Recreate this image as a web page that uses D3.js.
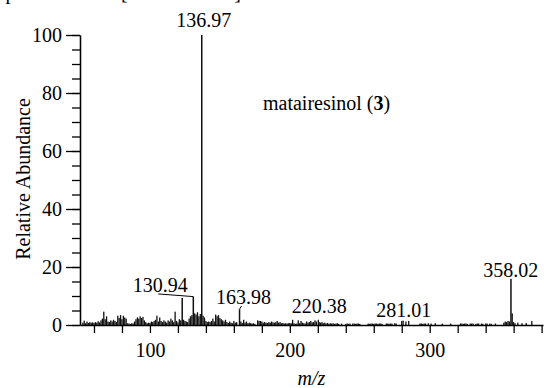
<!DOCTYPE html>
<html>
<head>
<meta charset="utf-8">
<script src="https://cdn.jsdelivr.net/npm/d3@7"></script>
<style>
  html, body { margin: 0; padding: 0; background: #fff; }
  svg { display: block; font-family: "Liberation Serif", "Times New Roman", serif; }
</style>
</head>
<body>
<div id="chart"></div>
<script>
// m/z of each peak and its relative abundance (%)
const massToCharge = [
  52, 53, 54, 55, 56, 57, 58, 59, 60, 61, 62, 63, 64, 65, 66, 67, 68, 69, 70,
  71, 72, 73, 74, 75, 76, 77, 78, 79, 80, 81, 82, 83, 84, 85, 86, 87, 88, 89,
  90, 91, 92, 93, 94, 95, 96, 97, 98, 99, 100, 101, 102, 103, 104, 105, 106,
  107, 108, 109, 110, 111, 112, 113, 114, 115, 116, 117, 118, 119, 120, 121,
  122, 123, 124, 125, 126, 127, 128, 129, 130, 130.94, 132, 133, 134, 135, 136,
  136.97, 138, 139, 140, 141, 142, 143, 144, 145, 146, 147, 148, 149, 150, 151,
  152, 153, 154, 155, 156, 157, 158, 159, 160, 161, 162, 163.98, 165, 166, 167,
  168, 169, 170, 171, 172, 173, 174, 175, 177, 178, 179, 180, 181, 182, 183,
  184, 185, 186, 187, 188, 189, 190, 191, 192, 193, 194, 195, 196, 197, 198,
  199, 200, 201, 202, 203, 204, 205, 206, 207, 208, 209, 210, 211, 212, 213,
  214, 215, 216, 217, 218, 219, 220.38, 221, 222, 223, 224, 225, 226, 227, 228,
  229, 230, 231, 232, 233, 234, 235, 237, 240, 241, 242, 243, 245, 246, 247,
  248, 249, 250, 256, 257, 258, 259, 260, 261, 262, 263, 264, 265, 266, 269,
  270, 271, 272, 273, 275, 276, 280, 281.01, 283, 285, 293, 294, 295, 296, 297,
  299, 301, 304, 309, 315, 322, 323, 324, 325, 326, 327, 329, 330, 331, 333,
  334, 335, 337, 338, 340, 341, 343, 344, 347, 353, 354, 355, 356, 357, 358.02,
  359, 360, 361, 363, 366, 369, 373
];
const abundance = [
  0.8, 1.5, 0.6, 1.2, 0.7, 1.0, 0.8, 0.9, 0.7, 1.0, 0.8, 1.3, 0.9, 1.6, 2.2, 4.6, 2.0, 3.0, 1.2,
  1.0, 1.6, 1.2, 1.8, 1.4, 1.0, 3.2, 2.4, 3.4, 2.0, 3.2, 2.6, 2.2, 0.6, 0.5, 0.4, 0.6, 0.5, 1.2,
  2.0, 2.6, 2.2, 3.0, 2.4, 2.8, 1.6, 1.0, 0.6, 0.8, 0.7, 1.2, 1.0, 1.4, 1.8, 3.2, 1.2,
  2.6, 1.4, 1.0, 1.6, 1.2, 0.8, 1.6, 1.2, 2.2, 1.6, 1.0, 4.6, 1.4, 0.9, 2.0,
  1.6, 9.3, 1.8, 1.4, 1.2, 1.0, 2.2, 3.0, 3.4, 9.8, 4.0, 3.6, 4.4, 3.0, 3.8,
  100, 3.2, 2.6, 1.4, 1.0, 1.2, 1.0, 1.4, 2.2, 1.2, 3.6, 3.0, 3.4, 2.4, 2.0,
  1.6, 1.2, 1.8, 1.0, 0.7, 1.2, 0.8, 0.6, 1.4, 0.8, 1.0, 5.4, 1.2, 0.7, 1.8,
  0.8, 1.2, 0.6, 0.8, 0.6, 0.5, 0.6, 0.4, 1.6, 1.4, 1.4, 1.2, 0.8, 1.0, 0.8,
  0.7, 1.0, 0.8, 1.2, 0.9, 0.8, 1.0, 1.4, 0.8, 1.0, 0.6, 0.7, 0.5, 0.6, 0.5,
  0.6, 0.7, 0.6, 1.8, 0.6, 0.4, 0.5, 1.6, 0.6, 1.4, 0.8, 0.6, 0.5, 1.2, 0.8,
  1.0, 1.4, 0.9, 1.0, 1.6, 1.2, 1.8, 1.0, 0.8, 1.0, 0.6, 0.8, 0.5, 0.7, 0.4,
  0.6, 0.5, 0.6, 0.4, 0.5, 0.6, 0.4, 0.5, 0.4, 0.5, 0.4, 0.5, 0.5, 0.5, 0.4,
  0.5, 0.5, 0.4, 0.5, 0.4, 0.5, 0.5, 0.4, 0.5, 0.5, 0.4, 0.5, 0.5, 0.4, 0.5,
  0.5, 0.4, 0.5, 0.5, 0.6, 0.5, 1.4, 1.5, 1.2, 1.4, 0.5, 0.5, 0.4, 0.5, 0.5,
  0.6, 0.5, 0.6, 0.5, 0.5, 0.5, 0.5, 0.4, 0.5, 0.5, 0.4, 0.5, 0.5, 0.5, 0.4,
  0.5, 0.5, 0.5, 0.4, 0.5, 0.5, 0.5, 0.4, 0.5, 0.8, 1.2, 1.0, 1.4, 1.2, 15.9,
  4.0, 1.0, 0.6, 0.8, 0.6, 0.7, 1.4
];

const peakLabels = ['136.97', '130.94', '163.98', '220.38', '281.01', '358.02'];
const xTickValues = [60, 80, 100, 120, 140, 160, 180, 200, 220, 240, 260, 280, 300, 320, 340, 360, 380];
const xTickLabels = [100, 200, 300];
const yTickValues = [0, 20, 40, 60, 80, 100];
const yMinorValues = [0, 5, 10, 15, 20, 25, 30, 35, 40, 45, 50, 55, 60, 65, 70, 75, 80, 85, 90, 95, 100];
const headerText = 'FTMS - p ESI Full ms [50.00-400.00]';
const compoundName = 'matairesinol';
const compoundNumber = '3';

const width = 544;
const height = 388;
const margin = { top: 35, right: 1, bottom: 63, left: 80 };

const svg = d3.select('#chart')
  .append('svg')
  .attr('width', width)
  .attr('height', height);

const x = d3.scaleLinear().domain([50, 381]).range([margin.left, width - margin.right]);
const y = d3.scaleLinear().domain([0, 100]).range([height - margin.bottom, margin.top]);

const peaks = massToCharge.map((mz, i) => ({ mz, value: abundance[i] }));

// header line, mostly cut off by the top edge
svg.append('text')
  .attr('x', 241)
  .attr('y', -1.5)
  .attr('text-anchor', 'end')
  .style('font-size', '20px')
  .text(headerText);

// bars
svg.append('g')
  .selectAll('rect')
  .data(peaks)
  .join('rect')
  .attr('x', (d) => x(d.mz) - 0.65)
  .attr('width', (d) => (d.value > 5 ? 1.5 : 1.3))
  .attr('y', (d) => y(d.value))
  .attr('height', (d) => y(0) - y(d.value))
  .attr('fill', '#111');

// axes
svg.append('g')
  .attr('transform', `translate(0,${y(0)})`)
  .call(d3.axisBottom(x)
    .tickValues(xTickValues)
    .tickSize(8)
    .tickSizeOuter(0)
    .tickPadding(10)
    .tickFormat((d) => (xTickLabels.includes(d) ? d : '')));

svg.append('g')
  .attr('transform', `translate(${x.range()[0]},0)`)
  .call(d3.axisLeft(y)
    .tickValues(yMinorValues)
    .tickSize(8)
    .tickSizeOuter(0)
    .tickFormat(''));

svg.append('g')
  .attr('transform', `translate(${x.range()[0]},0)`)
  .call(d3.axisLeft(y)
    .tickValues(yTickValues)
    .tickSize(14)
    .tickSizeOuter(0)
    .tickPadding(4));

svg.selectAll('.domain, .tick line')
  .attr('stroke', '#000')
  .attr('stroke-width', 1.3);
svg.selectAll('.tick text')
  .attr('fill', '#000')
  .style('font-family', '"Liberation Serif", "Times New Roman", serif')
  .style('font-size', '20px');

// axis titles
svg.append('text')
  .attr('transform', `translate(30,${(y(0) + y(100)) / 2 - 1}) rotate(-90)`)
  .attr('text-anchor', 'middle')
  .style('font-size', '20px')
  .text('Relative Abundance');

svg.append('text')
  .attr('x', (x.range()[0] + x.range()[1]) / 2)
  .attr('y', 385)
  .attr('text-anchor', 'middle')
  .style('font-size', '20px')
  .style('font-style', 'italic')
  .text('m/z');

// compound name
const name = svg.append('text')
  .attr('x', 263)
  .attr('y', 110)
  .style('font-size', '20px');
name.append('tspan').text(`${compoundName} (`);
name.append('tspan').style('font-weight', 'bold').text(compoundNumber);
name.append('tspan').text(')');

// peak labels: dx in px from the peak, level = label baseline in abundance units
const labelLayout = {
  '136.97': { dx: 2, level: 102.8, leader: false },
  '130.94': { dx: -33, level: 11.4, leader: true },
  '163.98': { dx: 4, level: 7.2, leader: true },
  '220.38': { dx: 1, level: 4.1, leader: false },
  '281.01': { dx: 0.5, level: 2.8, leader: false },
  '358.02': { dx: 0, level: 16.6, leader: false },
};

peakLabels.forEach((label) => {
  const peak = peaks.find((p) => p.mz === +label);
  const lay = labelLayout[label];
  const cx = x(peak.mz) + lay.dx;
  const by = y(lay.level);
  svg.append('text')
    .attr('x', cx)
    .attr('y', by)
    .attr('text-anchor', 'middle')
    .style('font-size', '20px')
    .text(label);
  if (lay.leader) {
    svg.append('line')
      .attr('x1', cx - 2)
      .attr('y1', by + 2)
      .attr('x2', x(peak.mz))
      .attr('y2', y(peak.value))
      .attr('stroke', '#000')
      .attr('stroke-width', 1);
  }
});
</script>
</body>
</html>
